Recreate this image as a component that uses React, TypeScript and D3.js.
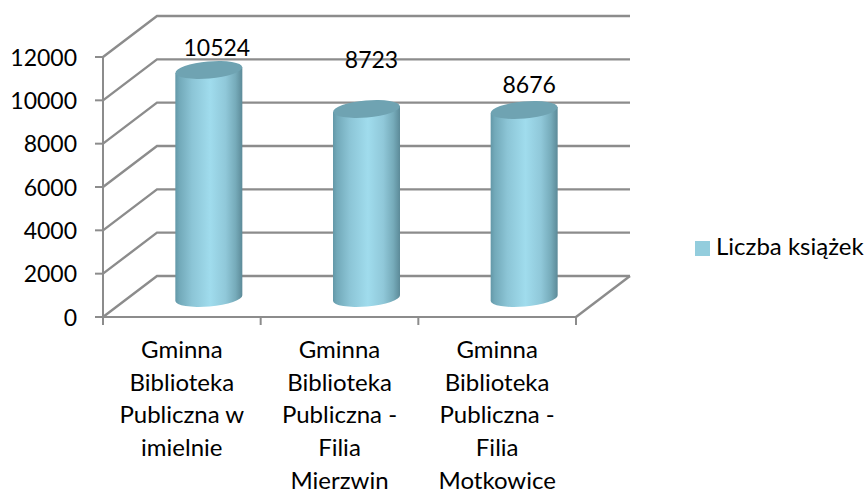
import React, { useEffect, useRef } from 'react';
import * as d3 from 'd3';

const categories = [
  ['Gminna', 'Biblioteka', 'Publiczna w', 'imielnie'],
  ['Gminna', 'Biblioteka', 'Publiczna -', 'Filia', 'Mierzwin'],
  ['Gminna', 'Biblioteka', 'Publiczna -', 'Filia', 'Motkowice'],
];
const values = [10524, 8723, 8676];
const tickValues = [0, 2000, 4000, 6000, 8000, 10000, 12000];
const seriesName = 'Liczba książek';
// how far above the cylinder top each data label sits, and its shift from the category centre
const labelLift = [14, 41, 17];
const labelShift = [35, 32, 32];

const FONT = 'Lato, "Open Sans", sans-serif';
const NUM_SIZE = 23;
const TEXT_SIZE = 24;
const GRID = '#8c8c8c';

export default function App() {
  const ref = useRef<SVGSVGElement>(null);

  useEffect(() => {
    const svg = d3.select(ref.current);
    svg.selectAll('*').remove();

    const depth = { x: 54, y: -41 };
    const x = d3.scaleBand<number>().domain(d3.range(3)).range([103, 576]);
    const y = d3.scaleLinear().domain([0, 12000]).range([317, 57]);

    const defs = svg.append('defs');
    const grad = defs.append('linearGradient').attr('id', 'cyl');
    [
      [0, '#6398a8'],
      [0.06, '#72a9b9'],
      [0.25, '#8cc5d6'],
      [0.52, '#a0dced'],
      [0.75, '#90c8d9'],
      [0.9, '#76abba'],
      [1, '#5c8a98'],
    ].forEach(s => grad.append('stop').attr('offset', s[0]).attr('stop-color', s[1]));
    const blur = defs.append('filter').attr('id', 'soft');
    blur.append('feGaussianBlur').attr('stdDeviation', 0.5);

    // walls and floor
    const grid = svg.append('g').attr('fill', 'none').attr('stroke', GRID).attr('stroke-width', 2.4).attr('filter', 'url(#soft)');
    const line = d3.line();
    tickValues.forEach(t => {
      grid.append('path').attr('d', line([
        [x.range()[0], y(t)],
        [x.range()[0] + depth.x, y(t) + depth.y],
        [x.range()[1] + depth.x, y(t) + depth.y],
      ]));
    });
    grid.append('path').attr('d', line([
      [x.range()[1], y(0)],
      [x.range()[1] + depth.x, y(0) + depth.y],
    ]));

    // axes
    const axes = svg.append('g').attr('fill', 'none').attr('stroke', GRID).attr('stroke-width', 2).attr('filter', 'url(#soft)');
    axes.append('path').attr('d', line([[x.range()[0], y(12000)], [x.range()[0], y(0)], [x.range()[1], y(0)]]));
    tickValues.forEach(t => {
      axes.append('path').attr('d', line([[x.range()[0] - 8, y(t)], [x.range()[0], y(t)]]));
    });
    d3.range(4).forEach(i => {
      const px = x.range()[0] + i * x.step();
      axes.append('path').attr('d', line([[px, y(0)], [px, y(0) + 8]]));
    });

    // y tick labels
    svg.append('g').selectAll('text').data(tickValues).join('text')
      .attr('x', 77).attr('y', d => y(d) + 8.5)
      .attr('text-anchor', 'end').attr('font-family', FONT).attr('font-size', NUM_SIZE).attr('fill', '#000')
      .text(d => d);

    // cylinders
    const rx = 33.5, ry = 8.5, tilt = -5;
    const bars = svg.append('g').selectAll('g').data(values).join('g')
      .attr('transform', (d, i) => `translate(${x(i)! + x.bandwidth() / 2 + 27},0)`);
    const baseY = y(0) - 19;
    bars.append('path')
      .attr('d', d => {
        const top = y(d) - 19;
        const dy = rx * Math.sin(-tilt * Math.PI / 180);
        return `M${-rx},${top + dy} L${-rx},${baseY + dy} A${rx},${ry} ${tilt} 0 0 ${rx},${baseY - dy} L${rx},${top - dy} Z`;
      })
      .attr('fill', 'url(#cyl)');
    bars.append('ellipse')
      .attr('cx', 0).attr('cy', d => y(d) - 19)
      .attr('rx', rx).attr('ry', ry)
      .attr('transform', d => `rotate(${tilt} 0 ${y(d) - 19})`)
      .attr('fill', '#6fa3b2');

    // data labels
    svg.append('g').selectAll('text').data(values).join('text')
      .attr('x', (d, i) => x(i)! + x.bandwidth() / 2 + labelShift[i])
      .attr('y', (d, i) => y(d) - 19 - labelLift[i])
      .attr('text-anchor', 'middle').attr('font-family', FONT).attr('font-size', NUM_SIZE).attr('fill', '#000')
      .text(d => d);

    // category labels
    const cat = svg.append('g').selectAll('text').data(categories).join('text')
      .attr('text-anchor', 'middle').attr('font-family', FONT).attr('font-size', TEXT_SIZE).attr('fill', '#000');
    cat.each(function (lines, i) {
      d3.select(this).selectAll('tspan').data(lines).join('tspan')
        .attr('x', x(i)! + x.bandwidth() / 2)
        .attr('y', (l, j) => 358 + j * 32.7)
        .text(l => l);
    });

    // legend
    svg.append('rect').attr('x', 695).attr('y', 241).attr('width', 15).attr('height', 15).attr('fill', '#93cddd');
    svg.append('text').attr('x', 716).attr('y', 255)
      .attr('font-family', FONT).attr('font-size', TEXT_SIZE).attr('fill', '#000')
      .text(seriesName);
  }, []);

  return <svg ref={ref} width={867} height={491} style={{ position: 'absolute', left: 0, top: 0, background: '#fff' }} />;
}
